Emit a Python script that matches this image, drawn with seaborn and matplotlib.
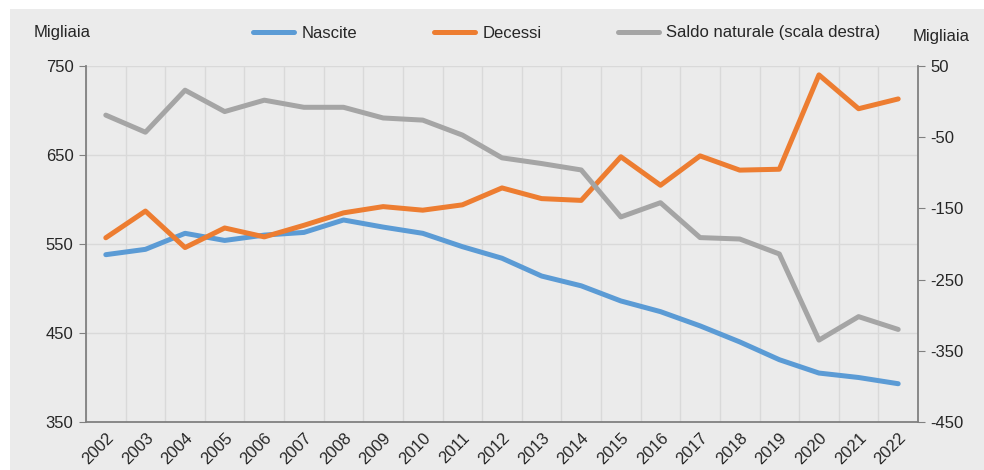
import numpy as np
import pandas as pd
import seaborn as sns
import matplotlib.pyplot as plt
from matplotlib.patches import Rectangle
from matplotlib.lines import Line2D
from matplotlib.ticker import FixedLocator, NullFormatter

# dati (migliaia)
anni = list(range(2002, 2023))
nascite = [538, 544, 562, 554, 560, 563, 577, 569, 562, 547, 534,
           514, 503, 486, 474, 458, 440, 420, 405, 400, 393]
decessi = [557, 587, 546, 568, 558, 571, 585, 592, 588, 594, 613,
           601, 599, 648, 616, 649, 633, 634, 740, 702, 713]
saldo = [-19, -43, 16, -14, 2, -8, -8, -23, -26, -47, -79,
         -87, -96, -162, -142, -191, -193, -214, -335, -302, -320]

df = pd.DataFrame({'anno': anni, 'Nascite': nascite, 'Decessi': decessi, 'Saldo': saldo})

bg = '#EBEBEB'
c_blu, c_ara, c_gri = '#5B9BD5', '#ED7D31', '#A5A5A5'
fs = 12
sns.set_style('white')
plt.rcParams['font.family'] = ['Liberation Sans', 'DejaVu Sans']
plt.rcParams['font.size'] = fs
plt.rcParams['axes.unicode_minus'] = False

fig = plt.figure(figsize=(9.84, 4.70), dpi=100)
fig.patch.set_facecolor('white')
fig.patches.append(Rectangle((10/984, 0), 1, 1 - 9/470, transform=fig.transFigure,
                             facecolor=bg, edgecolor='none', zorder=-10))

ax = fig.add_axes([86/984, 1 - 422/470, (918 - 86)/984, (422 - 66)/470])
ax.set_facecolor(bg)
lw = 3.6
sns.lineplot(data=df, x='anno', y='Nascite', ax=ax, color=c_blu, lw=lw, solid_capstyle='round')
sns.lineplot(data=df, x='anno', y='Decessi', ax=ax, color=c_ara, lw=lw, solid_capstyle='round')
ax.set_xlim(2001.5, 2022.5)
ax.set_ylim(350, 750)
ax.set_yticks([350, 450, 550, 650, 750])

# tick sui confini delle categorie, etichette al centro
bordi = np.arange(2001.5, 2023.0, 1.0)
ax.xaxis.set_major_locator(FixedLocator(bordi))
ax.xaxis.set_major_formatter(NullFormatter())
ax.xaxis.set_minor_locator(FixedLocator(anni))
ax.set_xticklabels([str(a) for a in anni], minor=True, rotation=45, ha='right',
                   rotation_mode='anchor')
ax.tick_params(axis='x', which='major', length=5, color='#808080', direction='out')
ax.tick_params(axis='x', which='minor', length=0, pad=6, labelsize=fs)
ax.tick_params(axis='y', length=5, color='#808080', pad=4, labelsize=fs)
ax.grid(True, which='major', axis='both', color='#D9D9D9', lw=1)
ax.set_axisbelow(True)
ax.set_xlabel('')
ax.set_ylabel('')
for s in ['top', 'right']:
    ax.spines[s].set_visible(False)
for s in ['left', 'bottom']:
    ax.spines[s].set_color('#808080')
    ax.spines[s].set_linewidth(1.3)

ax2 = ax.twinx()
sns.lineplot(data=df, x='anno', y='Saldo', ax=ax2, color=c_gri, lw=lw, solid_capstyle='round')
ax2.set_ylim(-450, 50)
ax2.set_yticks([-450, -350, -250, -150, -50, 50])
ax2.set_ylabel('')
ax2.tick_params(axis='y', length=5, color='#808080', pad=4, labelsize=fs)
for s in ['top', 'left', 'bottom']:
    ax2.spines[s].set_visible(False)
ax2.spines['right'].set_color('#808080')
ax2.spines['right'].set_linewidth(1.3)

fig.text(34/984, 1 - 33/470, 'Migliaia', fontsize=fs, va='center', ha='left')
fig.text(913/984, 1 - 37/470, 'Migliaia', fontsize=fs, va='center', ha='left')

handles = [Line2D([0], [0], color=c_blu, lw=lw, solid_capstyle='round'),
           Line2D([0], [0], color=c_ara, lw=lw, solid_capstyle='round'),
           Line2D([0], [0], color=c_gri, lw=lw, solid_capstyle='round')]
fig.legend(handles, ['Nascite', 'Decessi', 'Saldo naturale (scala destra)'],
           loc='center', bbox_to_anchor=(567/984, 1 - 33/470), ncol=3, frameon=False,
           fontsize=fs, handlelength=2.45, handletextpad=0.45, columnspacing=4.6)

fig.savefig('out.png', dpi=100)
